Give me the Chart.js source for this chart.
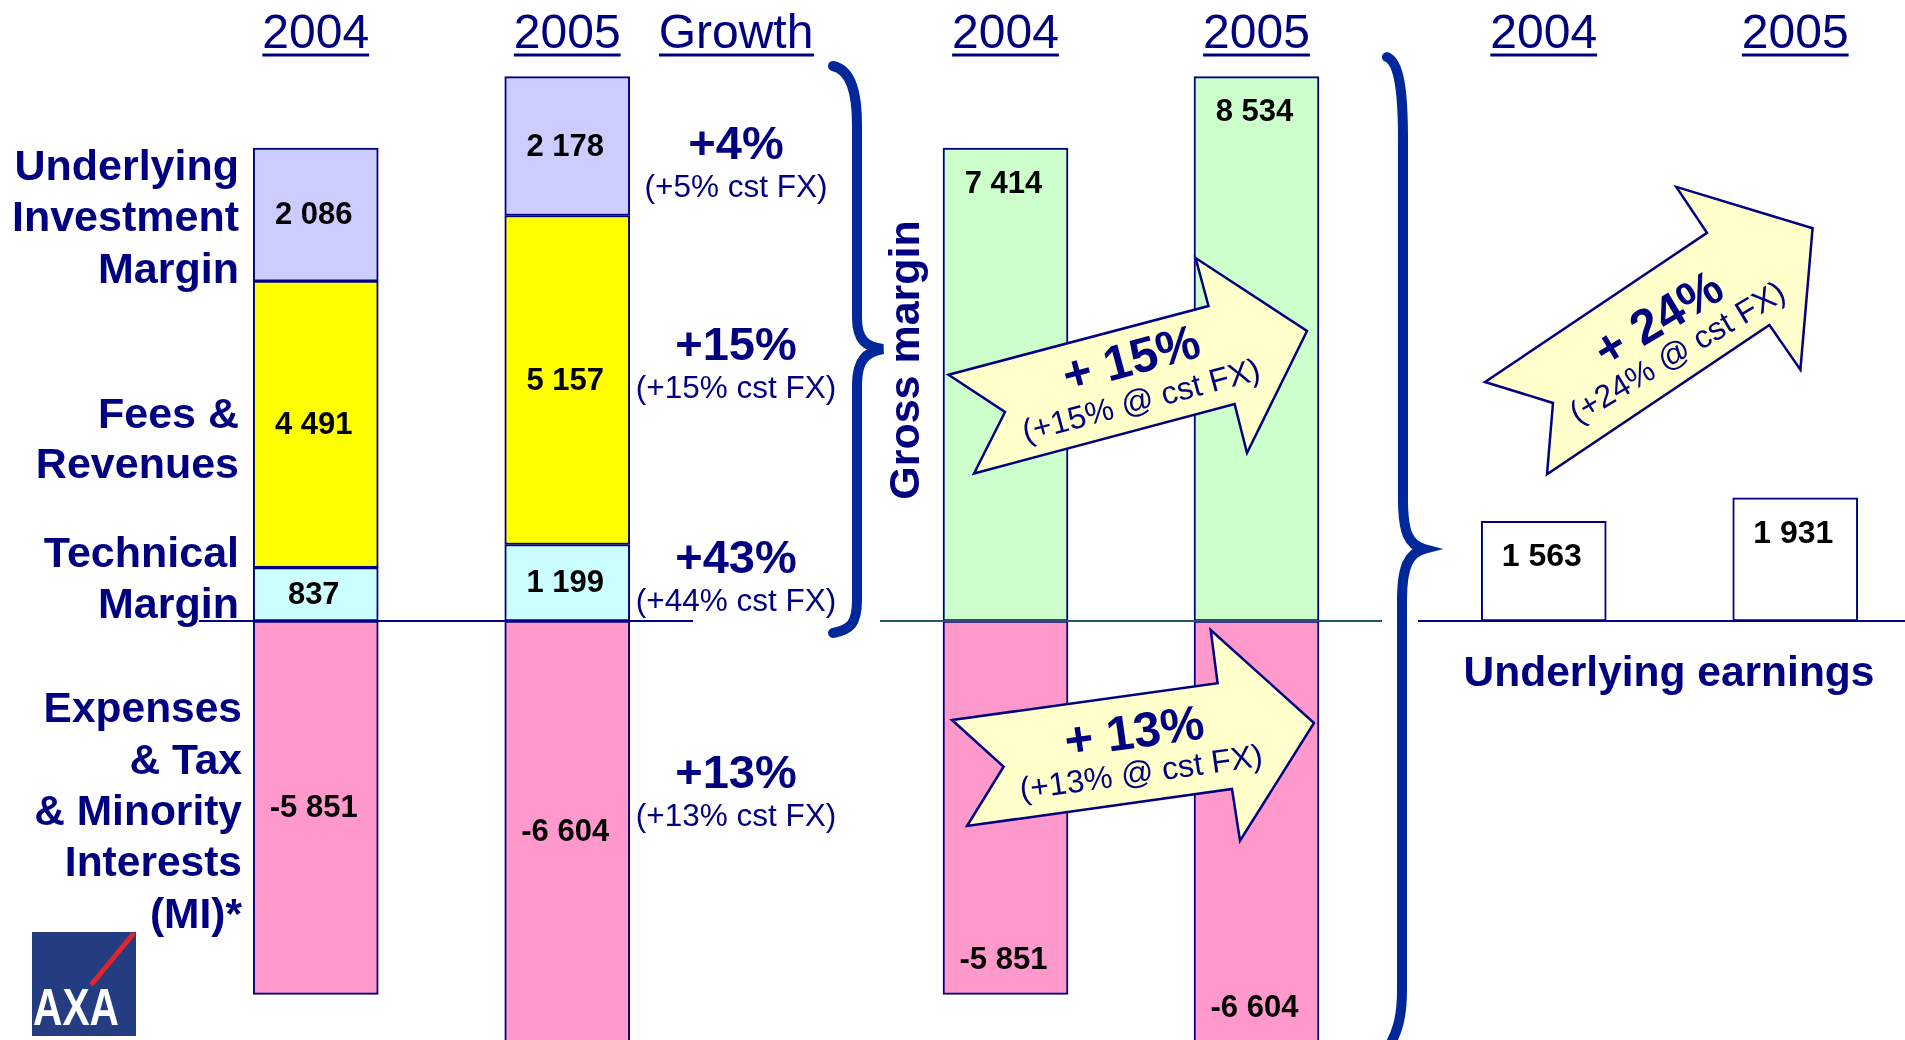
<!DOCTYPE html>
<html>
<head>
<meta charset="utf-8">
<title>AXA - underlying earnings 2004 / 2005</title>
<script src="https://cdn.jsdelivr.net/npm/chart.js@4.4.1/dist/chart.umd.min.js"></script>
<style>
  html, body { margin: 0; padding: 0; background: #fff; width: 1905px; height: 1040px; overflow: hidden; }
  .panel { position: absolute; top: 0; height: 1040px; }
  canvas { display: block; }
  #overlay { position: absolute; left: 0; top: 0; pointer-events: none; }
  #overlay text { font-family: "Liberation Sans", Arial, sans-serif; fill: #000080; }
</style>
</head>
<body>

<div class="panel" style="left:190px;width:503px"><canvas id="chartMix" width="503" height="1040"></canvas></div>
<div class="panel" style="left:880px;width:502px"><canvas id="chartGross" width="502" height="1040"></canvas></div>
<div class="panel" style="left:1418px;width:503px"><canvas id="chartEarnings" width="503" height="1040"></canvas></div>

<svg id="overlay" width="1905" height="1040" xmlns="http://www.w3.org/2000/svg">
  <!-- labels on the left -->
  <g font-weight="bold" font-size="43" text-anchor="end">
    <text x="239" y="180">Underlying</text>
    <text x="239" y="231">Investment</text>
    <text x="239" y="283">Margin</text>
    <text x="239" y="428">Fees &amp;</text>
    <text x="239" y="478">Revenues</text>
    <text x="239" y="567">Technical</text>
    <text x="239" y="618">Margin</text>
  </g>
  <g font-weight="bold" font-size="42.5" text-anchor="end">
    <text x="242" y="722">Expenses</text>
    <text x="242" y="774">&amp; Tax</text>
    <text x="242" y="825">&amp; Minority</text>
    <text x="242" y="876">Interests</text>
    <text x="242" y="928">(MI)*</text>
  </g>

  <!-- growth header + values -->
  <text x="736" y="48" font-size="48" text-anchor="middle">Growth</text>
  <line x1="659" y1="55" x2="814" y2="55" stroke="#000080" stroke-width="3"/>
  <g id="growthCol"></g>

  <!-- braces -->
  <path d="M 833 66 C 852 70 857 95 857 125 L 857 318 C 857 340 866 347 883 349 C 866 352 857 360 857 385 L 857 600 C 857 624 850 630 833 633"
        fill="none" stroke="#00289A" stroke-width="10" stroke-linecap="round"/>
  <path d="M 1387 57 C 1399 62 1403 90 1403 140 L 1403 500 C 1403 533 1409 545 1424 549 C 1409 553 1402 566 1402 600 L 1402 990 C 1402 1020 1396 1035 1388 1048"
        fill="none" stroke="#00289A" stroke-width="10" stroke-linecap="round"/>

  <text x="919" y="360" font-size="43" font-weight="bold" text-anchor="middle" transform="rotate(-90 919 360)">Gross margin</text>

  <!-- growth arrows -->
  <polygon points="948.5,374.7 1208.5,306 1195.6,258 1307,331 1247,453 1234.6,404 974,473.5 1005,412"
           fill="#FFFFCC" stroke="#000080" stroke-width="2.5" stroke-linejoin="miter"/>
  <polygon points="952,720 1217.6,683.3 1210.7,630 1314,723 1240,840.7 1232,789 967,826 1003.6,766.7"
           fill="#FFFFCC" stroke="#000080" stroke-width="2.5" stroke-linejoin="miter"/>
  <polygon points="1485,382 1707,232.8 1676.3,186.9 1812.6,228.2 1800.4,369.6 1769.4,325 1547,474.3 1553,403"
           fill="#FFFFCC" stroke="#000080" stroke-width="2.5" stroke-linejoin="miter"/>
  <g id="arrowText"></g>

  <text x="1669" y="686" font-size="42.5" font-weight="bold" text-anchor="middle">Underlying earnings</text>

  <!-- AXA logo -->
  <rect x="32" y="932" width="104" height="104" fill="#233C82"/>
  <line x1="134" y1="933" x2="91" y2="985" stroke="#E0262B" stroke-width="5"/>
  <text x="76" y="1025" font-size="52" font-weight="bold" text-anchor="middle"
        textLength="86" lengthAdjust="spacingAndGlyphs" style="fill:#fff">AXA</text>
</svg>

<script>
// 数据 (millions d'euros)
const years = ['2004', '2005'];
const technicalMargin = [837, 1199];
const feesRevenues = [4491, 5157];
const investmentMargin = [2086, 2178];
const expensesTaxMI = [-5851, -6604];
const grossMargin = [7414, 8534];
const underlyingEarnings = [1563, 1931];

const growthMain = ['+4%', '+15%', '+43%', '+13%'];
const growthFx = ['(+5% cst FX)', '(+15% cst FX)', '(+44% cst FX)', '(+13% cst FX)'];
const arrowMain = ['+ 15%', '+ 13%', '+ 24%'];
const arrowFx = ['(+15% @ cst FX)', '(+13% @ cst FX)', '(+24% @ cst FX)'];

// 颜色
const navy = '#000080';
const lavender = '#CCCCFF';
const yellow = '#FFFF00';
const lightCyan = '#CCFFFF';
const pink = '#FF99CC';
const lightGreen = '#CCFFCC';

// 同一个纵轴范围, 三个图的零线对齐
const yMin = -6567;
const yMax = 9734;

function fmt(v) {
    var s = Math.abs(v).toString().replace(/\B(?=(\d{3})+(?!\d))/g, ' ');
    return (v < 0 ? '-' : '') + s;
}

// 画年份标题, 零线和数值
const barLabels = {
    id: 'barLabels',
    afterDraw(chart, args, opts) {
        const ctx = chart.ctx;
        const area = chart.chartArea;
        const ys = chart.scales.y;
        const xs = chart.scales.x;
        ctx.save();

        // 零线
        const y0 = ys.getPixelForValue(0);
        ctx.strokeStyle = opts.lineColor;
        ctx.lineWidth = 2;
        ctx.beginPath();
        ctx.moveTo(area.left + (opts.lineStart || 0), y0);
        ctx.lineTo(area.right, y0);
        ctx.stroke();

        // 年份
        ctx.font = '48px "Liberation Sans", Arial, sans-serif';
        ctx.fillStyle = navy;
        ctx.textAlign = 'center';
        ctx.textBaseline = 'alphabetic';
        chart.data.labels.forEach(function(lab, i) {
            const x = xs.getPixelForValue(i);
            const w = ctx.measureText(lab).width;
            ctx.fillText(lab, x, 48);
            ctx.fillRect(x - w / 2, 53.5, w, 3);
        });

        // 数值
        ctx.font = 'bold ' + (opts.fontSize || 31) + 'px "Liberation Sans", Arial, sans-serif';
        ctx.fillStyle = '#000';
        ctx.textBaseline = 'middle';
        chart.data.datasets.forEach(function(ds, di) {
            const meta = chart.getDatasetMeta(di);
            meta.data.forEach(function(bar, i) {
                const v = ds.data[i];
                let y;
                if (opts.anchor === 'center') {
                    y = (bar.y + bar.base) / 2;
                } else {
                    y = bar.y + (v >= 0 ? 35 : -35);
                }
                ctx.fillText(fmt(v), bar.x - 2, y + 1);
            });
        });
        ctx.restore();
    }
};

function baseOptions(anchor, lineColor, lineStart, fontSize) {
    return {
        responsive: false,
        animation: false,
        events: [],
        layout: { padding: 0 },
        scales: {
            x: { display: false, stacked: true, offset: true },
            y: { display: false, stacked: true, min: yMin, max: yMax }
        },
        plugins: {
            legend: { display: false },
            tooltip: { enabled: false },
            barLabels: { anchor: anchor, lineColor: lineColor, lineStart: lineStart, fontSize: fontSize }
        }
    };
}

function barSet(label, data, color) {
    return {
        label: label,
        data: data,
        backgroundColor: color,
        borderColor: navy,
        borderWidth: 2,
        borderSkipped: false,
        barThickness: 125
    };
}

// 第一个图: 毛利构成
new Chart(document.getElementById('chartMix'), {
    type: 'bar',
    data: {
        labels: years,
        datasets: [
            barSet('Technical Margin', technicalMargin, lightCyan),
            barSet('Fees & Revenues', feesRevenues, yellow),
            barSet('Underlying Investment Margin', investmentMargin, lavender),
            barSet('Expenses & Tax & MI', expensesTaxMI, pink)
        ]
    },
    options: baseOptions('center', navy, 9, 31),
    plugins: [barLabels]
});

// 第二个图: 毛利 vs 费用
new Chart(document.getElementById('chartGross'), {
    type: 'bar',
    data: {
        labels: years,
        datasets: [
            barSet('Gross margin', grossMargin, lightGreen),
            barSet('Expenses & Tax & MI', expensesTaxMI, pink)
        ]
    },
    options: baseOptions('end', '#24566A', 0, 31),
    plugins: [barLabels]
});

// 第三个图: 基本利润
new Chart(document.getElementById('chartEarnings'), {
    type: 'bar',
    data: {
        labels: years,
        datasets: [
            barSet('Underlying earnings', underlyingEarnings, '#FFFFFF')
        ]
    },
    options: baseOptions('end', navy, 0, 32),
    plugins: [barLabels]
});

// 增长文字
const SVGNS = 'http://www.w3.org/2000/svg';
function addText(parent, str, x, y, size, bold, angle) {
    const t = document.createElementNS(SVGNS, 'text');
    t.setAttribute('x', x);
    t.setAttribute('y', y);
    t.setAttribute('font-size', size);
    t.setAttribute('text-anchor', 'middle');
    if (bold) t.setAttribute('font-weight', 'bold');
    if (angle) {
        t.setAttribute('dominant-baseline', 'central');
        t.setAttribute('transform', 'rotate(' + angle + ' ' + x + ' ' + y + ')');
    }
    t.textContent = str;
    parent.appendChild(t);
}

const growthCol = document.getElementById('growthCol');
const growthY = [159, 360, 573, 788];
growthMain.forEach(function(s, i) {
    addText(growthCol, s, 736, growthY[i], 47, true);
    addText(growthCol, growthFx[i], 736, growthY[i] + 38, 31.5, false);
});

const arrowText = document.getElementById('arrowText');
const arrowPos = [
    { main: [1131, 358], fx: [1141, 400], angle: -15 },
    { main: [1134, 731], fx: [1141, 772], angle: -8 },
    { main: [1658, 318], fx: [1677, 352], angle: -31 }
];
arrowPos.forEach(function(p, i) {
    addText(arrowText, arrowMain[i], p.main[0], p.main[1], 49, true, p.angle);
    addText(arrowText, arrowFx[i], p.fx[0], p.fx[1], 32, false, p.angle);
});
</script>
</body>
</html>
